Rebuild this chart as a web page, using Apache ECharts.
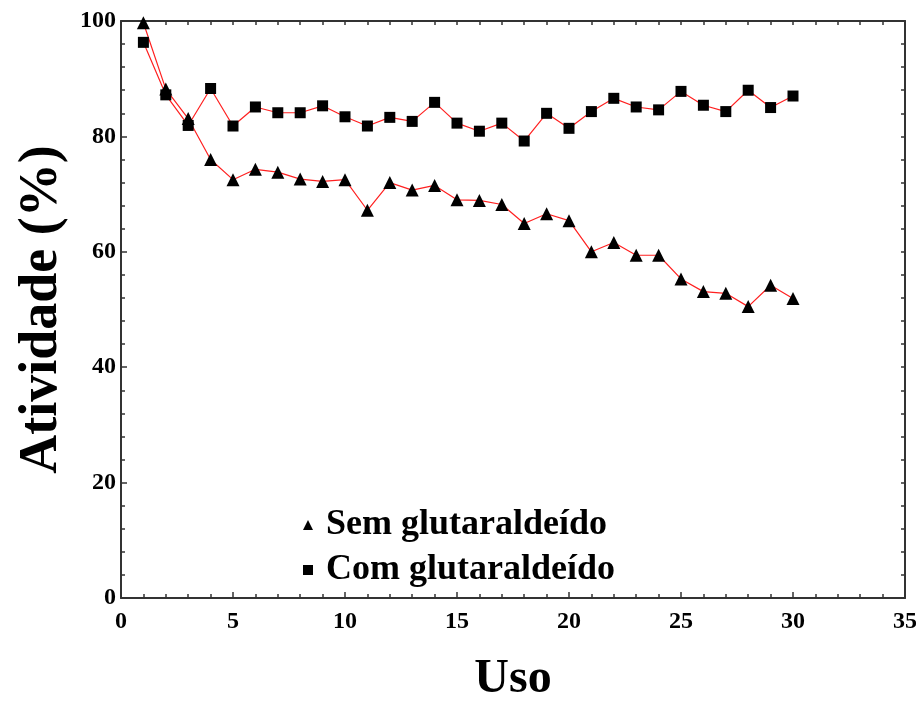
<!DOCTYPE html>
<html>
<head>
<meta charset="utf-8">
<title>Atividade (%) x Uso</title>
<script src="https://cdn.jsdelivr.net/npm/echarts@6/dist/echarts.min.js"></script>
<style>
  html, body { margin: 0; padding: 0; background: #ffffff; }
  #chart { width: 916px; height: 702px; }
</style>
</head>
<body>
<div id="chart"></div>
<script>
// Reuse number (cycle) on the x axis
const usos = [1,2,3,4,5,6,7,8,9,10,11,12,13,14,15,16,17,18,19,20,21,22,23,24,25,26,27,28,29,30];

// Relative activity (%) without glutaraldehyde
const semGlutaraldeido = [99.7,88.2,83.1,76.0,72.5,74.3,73.8,72.6,72.2,72.5,67.2,72.0,70.7,71.5,69.0,68.9,68.2,64.9,66.6,65.4,60.0,61.6,59.4,59.4,55.3,53.1,52.8,50.5,54.2,51.9];

// Relative activity (%) with glutaraldehyde
const comGlutaraldeido = [96.3,87.2,81.9,88.3,81.8,85.1,84.1,84.1,85.3,83.4,81.8,83.3,82.6,85.9,82.3,80.9,82.3,79.2,84.0,81.4,84.3,86.6,85.1,84.6,87.8,85.4,84.3,88.0,85.0,87.0];

const serieNomes = ['Sem glutaraldeído', 'Com glutaraldeído'];

const serif = '"Liberation Serif", "Times New Roman", serif';
const frame = { show: true, onZero: false, lineStyle: { color: '#333333', width: 2 } };
const tickLine = { color: '#333333', width: 1.5 };

const chart = echarts.init(document.getElementById('chart'));

chart.setOption({
  backgroundColor: '#ffffff',
  animation: false,
  grid: { left: 121, right: 11, top: 21, bottom: 104, outerBoundsMode: 'none', containLabel: false },
  legend: {
    orient: 'vertical',
    left: 298,
    top: 502,
    itemGap: 9,
    itemWidth: 10,
    itemHeight: 10,
    selectedMode: false,
    data: [
      { name: serieNomes[0], icon: 'triangle', itemStyle: { color: '#000' } },
      { name: serieNomes[1], icon: 'rect', itemStyle: { color: '#000' } }
    ],
    textStyle: {
      fontFamily: serif, fontWeight: 'bold', fontSize: 36, lineHeight: 36,
      color: '#000', padding: [0, 0, 0, 8]
    }
  },
  xAxis: [
    {
      type: 'value', position: 'bottom', min: 0, max: 35, interval: 5,
      name: 'Uso', nameLocation: 'middle', nameGap: 58,
      nameTextStyle: { fontFamily: serif, fontWeight: 'bold', fontSize: 48, color: '#000' },
      axisLine: frame,
      axisTick: { show: true, inside: true, length: 6, lineStyle: tickLine },
      minorTick: { show: true, splitNumber: 5, length: 4, lineStyle: tickLine },
      axisLabel: { fontFamily: serif, fontWeight: 'bold', fontSize: 24, color: '#000', margin: 12 },
      splitLine: { show: false }
    },
    {
      type: 'value', position: 'top', min: 0, max: 35, interval: 5,
      axisLine: frame,
      axisTick: { show: true, inside: true, length: 4, lineStyle: tickLine },
      minorTick: { show: true, splitNumber: 5, length: 4, lineStyle: tickLine },
      axisLabel: { show: false },
      splitLine: { show: false }
    }
  ],
  yAxis: [
    {
      type: 'value', position: 'left', min: 0, max: 100, interval: 20,
      name: 'Atividade (%)', nameLocation: 'middle', nameGap: 46,
      nameTextStyle: { fontFamily: serif, fontWeight: 'bold', fontSize: 54, color: '#000' },
      axisLine: frame,
      axisTick: { show: true, inside: true, length: 6, lineStyle: tickLine },
      minorTick: { show: true, splitNumber: 5, length: 4, lineStyle: tickLine },
      axisLabel: { fontFamily: serif, fontWeight: 'bold', fontSize: 24, color: '#000', margin: 5 },
      splitLine: { show: false }
    },
    {
      type: 'value', position: 'right', min: 0, max: 100, interval: 20,
      axisLine: frame,
      axisTick: { show: true, inside: true, length: 4, lineStyle: tickLine },
      minorTick: { show: true, splitNumber: 5, length: 4, lineStyle: tickLine },
      axisLabel: { show: false },
      splitLine: { show: false }
    }
  ],
  series: [
    {
      name: serieNomes[0], type: 'line', xAxisIndex: 0, yAxisIndex: 0,
      data: usos.map((u, i) => [u, semGlutaraldeido[i]]),
      symbol: 'triangle', symbolSize: 13,
      itemStyle: { color: '#000' },
      lineStyle: { color: '#ff2020', width: 1.2 },
      z: 3
    },
    {
      name: serieNomes[1], type: 'line', xAxisIndex: 0, yAxisIndex: 0,
      data: usos.map((u, i) => [u, comGlutaraldeido[i]]),
      symbol: 'rect', symbolSize: 11,
      itemStyle: { color: '#000' },
      lineStyle: { color: '#ff2020', width: 1.2 },
      z: 3
    }
  ]
});
</script>
</body>
</html>
